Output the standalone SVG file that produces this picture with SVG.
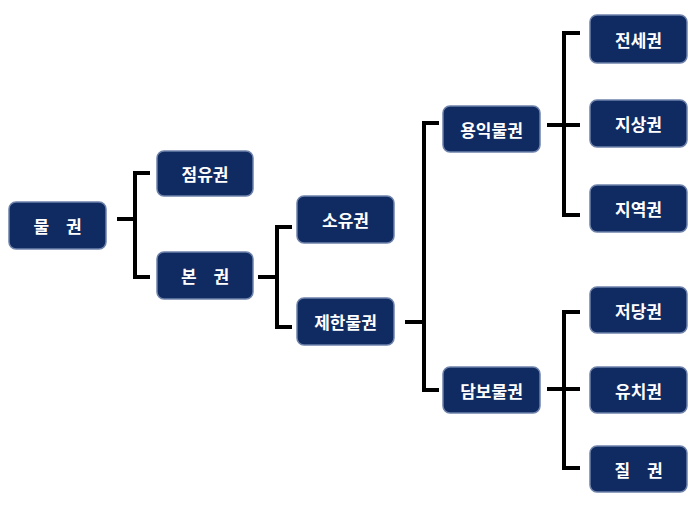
<svg xmlns="http://www.w3.org/2000/svg" width="698" height="509" viewBox="0 0 698 509">
<style>
.box{fill:#0f2b62;stroke:#6e82aa;stroke-width:1.5}
.lbl{fill:#ffffff;font-family:"Noto Sans CJK KR","Noto Sans",sans-serif;font-weight:bold;font-size:17px;text-anchor:middle;dominant-baseline:central}
.sp{word-spacing:13px}
.con{fill:none;stroke:#000;stroke-width:4;stroke-linejoin:miter;stroke-linecap:butt}
</style>
<rect width="698" height="509" fill="#fff"/>
<g id="connectors">
<path class="con" d="M117 219H135M150 173H135V277H150"/>
<path class="con" d="M258 277H277M292 227H277V327H292"/>
<path class="con" d="M405 322H424M439 123H424V390H439"/>
<path class="con" d="M547 125H580M580 33H564V215H580"/>
<path class="con" d="M547 389H580M580 312H564V468H580"/>
</g>
<g id="n-mulgwon"><rect class="box" x="9" y="202" width="97" height="47" rx="7"/><text class="lbl sp" x="57.5" y="225.5">물 권</text></g>
<g id="n-jeomyu"><rect class="box" x="157" y="151" width="96" height="45" rx="7"/><text class="lbl" x="205" y="173.5">점유권</text></g>
<g id="n-bongwon"><rect class="box" x="157" y="252" width="96" height="47" rx="7"/><text class="lbl sp" x="205" y="275.5">본 권</text></g>
<g id="n-soyu"><rect class="box" x="297" y="196" width="97" height="47" rx="7"/><text class="lbl" x="345.5" y="219.5">소유권</text></g>
<g id="n-jehan"><rect class="box" x="297" y="298" width="97" height="47" rx="7"/><text class="lbl" x="345.5" y="321.5">제한물권</text></g>
<g id="n-yongik"><rect class="box" x="443" y="106" width="97" height="46" rx="7"/><text class="lbl" x="491.5" y="129">용익물권</text></g>
<g id="n-dambo"><rect class="box" x="443" y="367" width="97" height="46" rx="7"/><text class="lbl" x="491.5" y="390">담보물권</text></g>
<g id="n-jeonse"><rect class="box" x="590" y="15" width="97" height="48" rx="7"/><text class="lbl" x="638.5" y="39">전세권</text></g>
<g id="n-jisang"><rect class="box" x="590" y="100" width="97" height="47" rx="7"/><text class="lbl" x="638.5" y="123.5">지상권</text></g>
<g id="n-jiyeok"><rect class="box" x="590" y="185" width="97" height="47" rx="7"/><text class="lbl" x="638.5" y="208.5">지역권</text></g>
<g id="n-jeodang"><rect class="box" x="590" y="287" width="97" height="46" rx="7"/><text class="lbl" x="638.5" y="310">저당권</text></g>
<g id="n-yuchi"><rect class="box" x="590" y="367" width="97" height="46" rx="7"/><text class="lbl" x="638.5" y="390">유치권</text></g>
<g id="n-jil"><rect class="box" x="590" y="446" width="97" height="46" rx="7"/><text class="lbl sp" x="638.5" y="469">질 권</text></g>
</svg>
